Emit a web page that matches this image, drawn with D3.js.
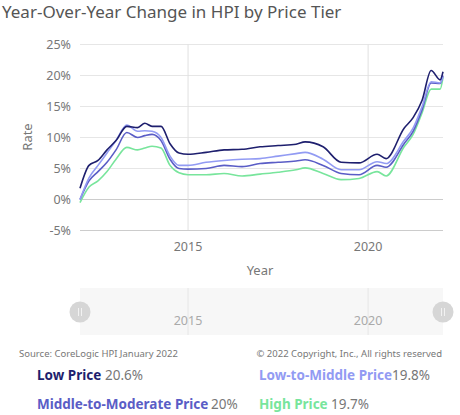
<!DOCTYPE html>
<html><head><meta charset="utf-8">
<script src="https://cdn.jsdelivr.net/npm/d3@7"></script>
<style>body{margin:0;background:#fff;font-family:"Source Sans Pro","Noto Sans",sans-serif;}</style>
</head><body>
<div id="chart"></div>
<script>
var years = [2012, 2012.25, 2012.5, 2012.75, 2013, 2013.3, 2013.6, 2013.8, 2014, 2014.25, 2014.5, 2014.75, 2015, 2015.5, 2016, 2016.5, 2017, 2017.5, 2018, 2018.25, 2018.75, 2019.25, 2019.75, 2020.25, 2020.5, 2021, 2021.25, 2021.5, 2021.75, 2022, 2022.08];
var lowPrice = [1.8,5.5,6.3,8,9.5,11.8,11.6,12.3,11.8,11.8,9,7.5,7.3,7.6,8.0,8.1,8.5,8.7,8.9,9.3,8.5,6.0,5.9,7.3,6.6,11.5,13.2,16,20.8,19.3,20.6];
var lowToMiddle = [0,3.5,5.5,7.5,9.5,12,11,11.1,11,10,7,5.5,5.5,6,6.3,6.5,6.6,7,7.4,7.6,6.5,4.8,4.8,6.1,5.8,9.5,11.5,15,19,18.8,19.8];
var middleToModerate = [0,3,4.5,6,8,10.8,10,10.3,10.5,9.5,6.5,5,4.9,5,5.5,5.3,5.8,6,6.2,6.4,5.5,4.2,4,5.5,5.2,9,11,14.5,18.8,18.7,20];
var highPrice = [-0.5,2,3,4.5,6.5,8.4,8,8.3,8.6,8.3,5.5,4.3,4,4,4.2,3.8,4.1,4.4,4.8,5.1,4.2,3.2,3.4,4.5,3.8,8.5,10.5,14,17.8,17.8,19.7];
var yTicks = [-5, 0, 5, 10, 15, 20, 25];
var xTicks = [2015, 2020];

var series = [
  { name: 'Low Price', values: lowPrice, color: '#1e1f6e', last: '20.6%' },
  { name: 'Low-to-Middle Price', values: lowToMiddle, color: '#929bf3', last: '19.8%' },
  { name: 'Middle-to-Moderate Price', values: middleToModerate, color: '#5a5dc6', last: '20%' },
  { name: 'High Price', values: highPrice, color: '#78e59c', last: '19.7%' }
];

var width = 460, height = 415;
var svg = d3.select('#chart').append('svg').attr('width', width).attr('height', height);

var x = d3.scaleLinear().domain([2012, 2022.08]).range([80, 443]);
var y = d3.scaleLinear().domain([-5, 25]).range([230.5, 44.5]);

svg.append('text').attr('x', 2).attr('y', 18).attr('font-size', 17).attr('fill', '#555')
   .text('Year-Over-Year Change in HPI by Price Tier');

// grid
svg.selectAll('.hgrid').data(yTicks).enter().append('line')
   .attr('x1', 80).attr('x2', 443).attr('y1', d => y(d)).attr('y2', d => y(d))
   .attr('stroke', d => d === 0 ? '#ccc' : '#e6e6e6');
svg.selectAll('.vgrid').data(xTicks).enter().append('line')
   .attr('x1', d => x(d)).attr('x2', d => x(d)).attr('y1', 44.5).attr('y2', 230.5)
   .attr('stroke', '#e0e0e0');
svg.append('line').attr('x1', 80).attr('x2', 443).attr('y1', 230.5).attr('y2', 230.5).attr('stroke', '#ccc');

svg.selectAll('.ylab').data(yTicks).enter().append('text')
   .attr('x', 71).attr('y', d => y(d) + 4).attr('text-anchor', 'end')
   .attr('font-size', 12.5).attr('fill', '#777').text(d => d + '%');
svg.selectAll('.xlab').data(xTicks).enter().append('text')
   .attr('x', d => x(d)).attr('y', 251).attr('text-anchor', 'middle')
   .attr('font-size', 12.5).attr('fill', '#777').text(d => d);
svg.append('text').attr('x', 260).attr('y', 275).attr('text-anchor', 'middle')
   .attr('font-size', 13).attr('fill', '#777').text('Year');
svg.append('text').attr('transform', 'translate(32,137) rotate(-90)').attr('text-anchor', 'middle')
   .attr('font-size', 13).attr('fill', '#777').text('Rate');

var line = d3.line().curve(d3.curveMonotoneX)
   .x(function(d, i){ return x(years[i]); })
   .y(function(d){ return y(d); });

[3, 2, 1, 0].forEach(function(k){
  svg.append('path').datum(series[k].values).attr('d', line)
     .attr('fill', 'none').attr('stroke', series[k].color).attr('stroke-width', 1.6);
});

// navigator
svg.append('rect').attr('x', 80).attr('y', 288).attr('width', 363).attr('height', 47).attr('fill', '#f7f7f7');
svg.selectAll('.ngrid').data(xTicks).enter().append('line')
   .attr('x1', d => x(d)).attr('x2', d => x(d)).attr('y1', 288).attr('y2', 335).attr('stroke', '#e6e6e6');
svg.selectAll('.nlab').data(xTicks).enter().append('text')
   .attr('x', d => x(d)).attr('y', 325).attr('text-anchor', 'middle')
   .attr('font-size', 12.5).attr('fill', '#aaa').text(d => d);
[80, 443].forEach(function(cx){
  svg.append('circle').attr('cx', cx).attr('cy', 312).attr('r', 10.5).attr('fill', '#d6d6d6');
  svg.append('line').attr('x1', cx - 1.5).attr('x2', cx - 1.5).attr('y1', 308).attr('y2', 316).attr('stroke', '#f2f2f2');
  svg.append('line').attr('x1', cx + 1.5).attr('x2', cx + 1.5).attr('y1', 308).attr('y2', 316).attr('stroke', '#f2f2f2');
});

svg.append('text').attr('x', 19).attr('y', 357).attr('font-size', 9.5).attr('fill', '#777')
   .text('Source: CoreLogic HPI January 2022');
svg.append('text').attr('x', 442).attr('y', 357).attr('text-anchor', 'end').attr('font-size', 9.5).attr('fill', '#777')
   .text('© 2022 Copyright, Inc., All rights reserved');

var legendPos = [[37, 380, 105], [259, 380, 392], [37, 409, 211], [259, 409, 331]];
series.forEach(function(s, i){
  var p = legendPos[i];
  svg.append('text').attr('x', p[0]).attr('y', p[1]).attr('font-size', 13.5).attr('font-weight', 'bold')
     .attr('fill', s.color).text(s.name);
  svg.append('text').attr('x', p[2]).attr('y', p[1]).attr('font-size', 13.5).attr('fill', '#777').text(s.last);
});
</script>
</body></html>
